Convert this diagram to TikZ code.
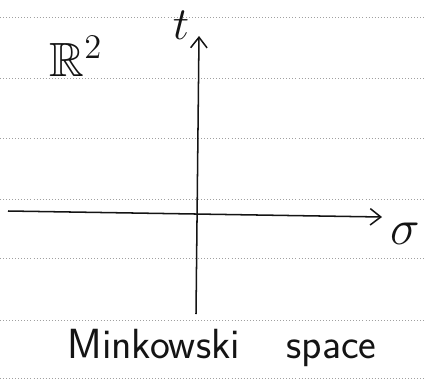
\documentclass[tikz,border=0pt]{standalone}
\usepackage{amsmath}
\usepackage{amssymb}
\usepackage{xcolor}
\usepackage{tikz}
\usetikzlibrary{arrows.meta}
\definecolor{ruling}{HTML}{A0A0A0}
\definecolor{pencil}{HTML}{141414}

\begin{document}
\begin{tikzpicture}[x=0.03cm, y=-0.03cm]
  \useasboundingbox (0,0) rectangle (424,387);

  % ruled paper
  \foreach \yy in {17,78,138,199,258,320,378}
    \draw[ruling, dotted, line width=0.6pt] (0,\yy) -- (424,\yy);

  \coordinate (west)  at (8,211);
  \coordinate (east)  at (382,217);
  \coordinate (south) at (196,314);
  \coordinate (north) at (199,36);

  \draw[
    pencil, line width=1.3pt,
    -{Straight Barb[length=9pt, width=14pt]}
  ] (west) -- (east);
  \draw[
    pencil, line width=1.3pt,
    -{Straight Barb[length=9pt, width=14pt]}
  ] (south) -- (north);

  \node[pencil, inner sep=0pt, scale=1.9, font=\fontsize{20}{24}\selectfont] (time) at (181,25) {$t$};
  \node[pencil, inner sep=0pt, scale=2.05, font=\fontsize{20}{24}\selectfont] (sigma) at (405,234) {$\sigma$};
  \node[pencil, inner sep=0pt, scale=2.05, font=\fontsize{20}{24}\selectfont] (plane) at (76,56) {$\mathbb{R}^2$};
  \node[
    pencil, inner sep=0pt,
    font=\sffamily\fontsize{36}{40}\selectfont
  ] (caption) at (222,348) {Minkowski\hspace{1.4cm}space};
\end{tikzpicture}
\end{document}
